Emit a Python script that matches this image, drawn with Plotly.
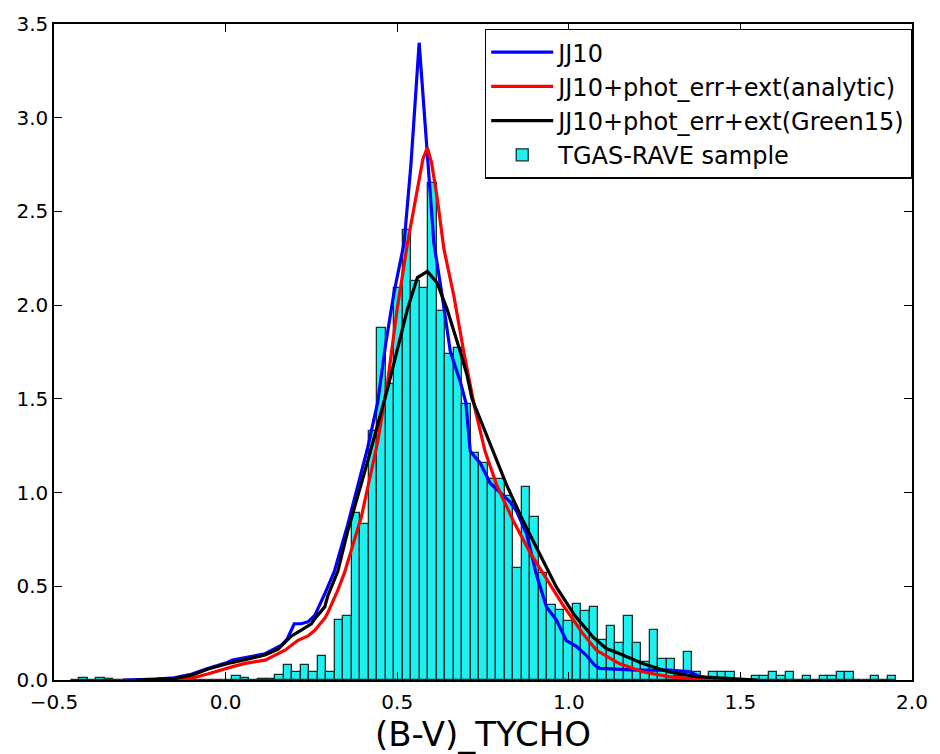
import numpy as np
import plotly.graph_objects as go

# ---- histogram (TGAS-RAVE sample), density values per bin ----
BIN_START = -0.4512
BIN_WIDTH = 0.0248
hist_density = [
    0, 0.012, 0, 0.012, 0.008, 0, 0, 0, 0, 0,
    0, 0, 0, 0, 0, 0, 0, 0, 0, 0.022,
    0.01, 0, 0.008, 0.008, 0.025, 0.078, 0.042, 0.078, 0.042, 0.13,
    0.043, 0.32, 0.34, 0.89, 0.83, 1.33, 1.88, 1.58, 2.09, 2.40,
    2.13, 2.09, 2.65, 1.97, 1.74, 1.77, 1.47, 1.21, 1.16, 1.07,
    1.07, 0.98, 0.60, 1.03, 0.87, 0.57, 0.40, 0.375, 0.315, 0.407,
    0.37, 0.39, 0.216, 0.29, 0.198, 0.339, 0.198, 0.095, 0.269, 0.11,
    0.11, 0.02, 0.15, 0.045, 0, 0.045, 0.045, 0.045, 0, 0,
    0.0225, 0.0225, 0.045, 0.0225, 0.045, 0, 0.0225, 0, 0.0225, 0.0225,
    0.045, 0.045, 0, 0, 0.0225, 0, 0.0225,
]
bin_centers = BIN_START + BIN_WIDTH * (np.arange(len(hist_density)) + 0.5)

# ---- JJ10 model ----
jj10_x = [-0.30, -0.20, -0.15, -0.10, -0.05, 0.0, 0.02, 0.06, 0.115, 0.163, 0.18,
          0.20, 0.22, 0.24, 0.26, 0.289, 0.317, 0.356, 0.385, 0.414, 0.443, 0.467,
          0.491, 0.52, 0.54, 0.564, 0.582, 0.607, 0.631, 0.655, 0.684, 0.70, 0.713,
          0.742, 0.771, 0.80, 0.829, 0.848, 0.877, 0.906, 0.935, 0.964, 0.993,
          1.022, 1.05, 1.075, 1.09, 1.15, 1.20, 1.29, 1.35, 1.38, 1.42, 1.50]
jj10_y = [0.0, 0.005, 0.012, 0.03, 0.062, 0.09, 0.106, 0.12, 0.14, 0.186, 0.22,
          0.30, 0.30, 0.31, 0.345, 0.46, 0.58, 0.83, 1.03, 1.24, 1.48, 1.80,
          2.07, 2.33, 2.75, 3.40, 2.95, 2.33, 2.05, 1.75, 1.59, 1.48, 1.22,
          1.157, 1.05, 1.0, 0.95, 0.90, 0.78, 0.56, 0.39, 0.32, 0.21,
          0.18, 0.133, 0.08, 0.062, 0.057, 0.053, 0.053, 0.045, 0.02, 0.005, 0.0]

# ---- JJ10 + phot_err + ext (analytic) ----
ana_x = [-0.14, -0.10, -0.05, 0.0, 0.018, 0.06, 0.115, 0.173, 0.211, 0.24, 0.26,
         0.289, 0.298, 0.327, 0.346, 0.395, 0.443, 0.472, 0.50, 0.53, 0.56, 0.575,
         0.588, 0.60, 0.616, 0.636, 0.665, 0.694, 0.725, 0.756, 0.79, 0.838, 0.887,
         0.935, 0.983, 1.04, 1.08, 1.147, 1.215, 1.29, 1.37, 1.50]
ana_y = [0.0, 0.009, 0.033, 0.062, 0.07, 0.09, 0.106, 0.159, 0.212, 0.235, 0.265,
         0.33, 0.36, 0.48, 0.57, 0.866, 1.27, 1.59, 1.98, 2.33, 2.62, 2.78,
         2.84, 2.76, 2.58, 2.30, 2.05, 1.75, 1.46, 1.22, 1.04, 0.85, 0.68,
         0.54, 0.40, 0.25, 0.16, 0.088, 0.044, 0.018, 0.005, 0.0]

# ---- JJ10 + phot_err + ext (Green15) ----
g15_x = [-0.26, -0.20, -0.146, -0.097, -0.049, 0.018, 0.095, 0.115, 0.153, 0.192,
         0.211, 0.25, 0.26, 0.289, 0.298, 0.327, 0.356, 0.414, 0.472, 0.53, 0.559,
         0.588, 0.616, 0.645, 0.684, 0.703, 0.718, 0.771, 0.819, 0.867, 0.91, 0.964,
         1.017, 1.07, 1.109, 1.147, 1.215, 1.29, 1.37, 1.485, 1.55]
g15_y = [0.0, 0.003, 0.009, 0.027, 0.06, 0.093, 0.124, 0.133, 0.165, 0.235,
         0.256, 0.30, 0.327, 0.39, 0.45, 0.58, 0.795, 1.167, 1.555, 1.98, 2.147,
         2.18, 2.12, 1.98, 1.75, 1.63, 1.50, 1.255, 1.04, 0.848, 0.69, 0.495,
         0.345, 0.23, 0.168, 0.141, 0.088, 0.044, 0.018, 0.004, 0.0]

FONT = "DejaVu Sans"

fig = go.Figure()
fig.add_trace(go.Scatter(x=jj10_x, y=jj10_y, mode="lines", name="JJ10",
                         line=dict(color="#0000ff", width=3.2)))
fig.add_trace(go.Scatter(x=ana_x, y=ana_y, mode="lines",
                         name="JJ10+phot_err+ext(analytic)",
                         line=dict(color="#ff0000", width=3.2)))
fig.add_trace(go.Scatter(x=g15_x, y=g15_y, mode="lines",
                         name="JJ10+phot_err+ext(Green15)",
                         line=dict(color="#000000", width=3.2)))
fig.add_trace(go.Bar(x=bin_centers, y=hist_density, width=BIN_WIDTH,
                     name="TGAS-RAVE sample",
                     marker=dict(color="#1ef0f0",
                                 line=dict(color="#16302f", width=1.3))))

axis_common = dict(showline=True, linecolor="black", linewidth=1.5,
                   mirror="allticks", ticks="inside", ticklen=8, tickwidth=1,
                   tickcolor="black", showgrid=False, zeroline=False,
                   tickfont=dict(family=FONT, size=20, color="black"),
                   tickformat=".1f", dtick=0.5)

fig.update_layout(
    width=940, height=754,
    margin=dict(l=54, r=22, t=20, b=74),
    paper_bgcolor="white", plot_bgcolor="white",
    bargap=0,
    font=dict(family=FONT, color="black"),
    xaxis=dict(range=[-0.5, 2.0], tick0=-0.5, ticklabelstandoff=3,
               title=dict(text="(B-V)_TYCHO", font=dict(family=FONT, size=34),
                          standoff=2),
               **axis_common),
    yaxis=dict(range=[0, 3.5], tick0=0, **axis_common),
    legend=dict(x=0.502, y=0.993, xanchor="left", yanchor="top",
                bgcolor="white", bordercolor="black", borderwidth=1.5,
                font=dict(family=FONT, size=24, color="black"),
                itemwidth=62, traceorder="normal"),
    showlegend=True,
)

fig.write_html("out.html")
